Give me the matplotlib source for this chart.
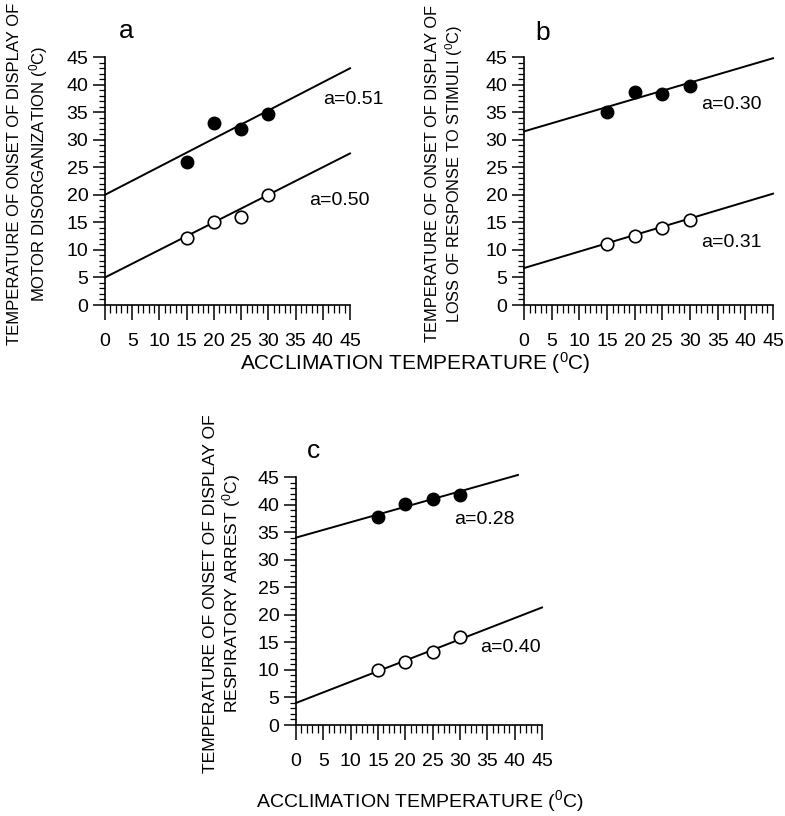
import numpy as np
import matplotlib
matplotlib.use('Agg')
import matplotlib.pyplot as plt
from matplotlib.ticker import MultipleLocator

plt.rcParams['font.family'] = ['Liberation Sans', 'DejaVu Sans']
plt.rcParams['mathtext.fontset'] = 'custom'
plt.rcParams['mathtext.rm'] = 'Liberation Sans'
plt.rcParams['mathtext.it'] = 'Liberation Sans'

# acclimation temperatures
acc = [15, 20, 25, 30]

# panel a: motor disorganization
a_hot = [26.0, 33.0, 32.0, 34.7]
a_cold = [12.2, 15.0, 16.0, 20.0]
# panel b: loss of response to stimuli
b_hot = [35.0, 38.7, 38.3, 39.8]
b_cold = [11.0, 12.6, 14.0, 15.5]
# panel c: respiratory arrest
c_hot = [37.7, 40.1, 41.0, 41.8]
c_cold = [10.0, 11.5, 13.2, 16.0]

# regression lines: intercept, slope, end of line
a_lines = [(20.0, 0.51, 45), (5.0, 0.50, 45)]
b_lines = [(31.5, 0.295, 45), (6.7, 0.30, 45)]
c_lines = [(34.0, 0.28, 40.6), (4.0, 0.385, 45)]

a_txt = ['a=0.51', 'a=0.50']
b_txt = ['a=0.30', 'a=0.31']
c_txt = ['a=0.28', 'a=0.40']

W, H = 785, 816
fig = plt.figure(figsize=(W / 100, H / 100), dpi=100)


def make_ax(left, top, w, h):
    return fig.add_axes([left / W, (H - top - h) / H, w / W, h / H])


def style(ax):
    ax.set_xlim(0, 45)
    ax.set_ylim(0, 45)
    for s in ['top', 'right']:
        ax.spines[s].set_visible(False)
    ax.spines['left'].set_linewidth(1.2)
    ax.spines['bottom'].set_linewidth(1.2)
    ax.xaxis.set_major_locator(MultipleLocator(5))
    ax.yaxis.set_major_locator(MultipleLocator(5))
    ax.xaxis.set_minor_locator(MultipleLocator(1))
    ax.yaxis.set_minor_locator(MultipleLocator(1))
    ax.tick_params(axis='x', which='major', direction='out', length=11, width=1.1, labelsize=14, pad=9)
    ax.tick_params(axis='x', which='minor', direction='out', length=6, width=0.9)
    ax.tick_params(axis='y', which='major', direction='out', length=9, width=1.1, labelsize=14, pad=3)
    ax.tick_params(axis='y', which='minor', direction='out', length=4.5, width=0.9)


def panel(ax, hot, cold, lines, txt, txt_pos, letter, letter_pos, ylab, yfs, ycoords, lsp):
    style(ax)
    for (b0, k, xe) in lines:
        xs = np.array([0, xe])
        ax.plot(xs, b0 + k * xs, color='black', lw=1.4, clip_on=False)
    ax.plot(acc, hot, 'o', color='black', ms=9, clip_on=False)
    ax.plot(acc, cold, 'o', mfc='white', mec='black', mew=1.2, ms=9, clip_on=False)
    for t, (x, y) in zip(txt, txt_pos):
        ax.text(x, y, t, fontsize=14, va='center', ha='left')
    ax.text(letter_pos[0], letter_pos[1], letter, fontsize=19, va='center', ha='left')
    ax.set_ylabel(ylab, fontsize=yfs, linespacing=lsp)
    ax.yaxis.set_label_coords(ycoords[0], ycoords[1])


deg = r'($^{0}$C)'

ax_a = make_ax(105, 57, 245, 248)
panel(ax_a, a_hot, a_cold, a_lines, a_txt, [(40.0, 37.2), (37.5, 19.0)],
      'a', (2.5, 49.8), 'TEMPERATURE OF ONSET OF DISPLAY OF\nMOTOR DISORGANIZATION ' + deg,
      12, (-0.225, 0.53), 1.3)

ax_b = make_ax(524, 57, 249, 248)
panel(ax_b, b_hot, b_cold, b_lines, b_txt, [(32.0, 36.3), (32.0, 11.4)],
      'b', (2.0, 49.3), 'TEMPERATURE OF ONSET OF DISPLAY OF\nLOSS OF RESPONSE TO STIMULI ' + deg,
      11.8, (-0.235, 0.53), 1.2)

ax_c = make_ax(296, 477, 246, 248)
panel(ax_c, c_hot, c_cold, c_lines, c_txt, [(29.0, 37.2), (33.6, 14.0)],
      'c', (2.0, 49.8), 'TEMPERATURE OF ONSET OF DISPLAY OF\nRESPIRATORY ARREST ' + deg,
      12.6, (-0.215, 0.53), 1.15)

fig.text(415 / W, 1 - 363 / H, 'ACCLIMATION TEMPERATURE ' + deg, fontsize=15, ha='center', va='center')
fig.text(420 / W, 1 - 801 / H, 'ACCLIMATION TEMPERATURE ' + deg, fontsize=14, ha='center', va='center')

fig.savefig('out.png', dpi=100)
